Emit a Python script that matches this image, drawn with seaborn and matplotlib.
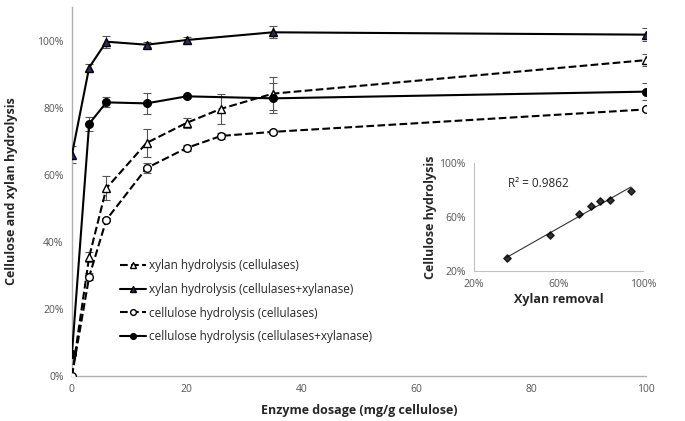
import matplotlib
matplotlib.use("Agg")
import matplotlib.pyplot as plt
import numpy as np
import pandas as pd
import seaborn as sns
from matplotlib.ticker import PercentFormatter

# enzyme dosage (mg/g cellulose)
dose_cel = [0, 3, 6, 13, 20, 26, 35, 100]
dose_mix = [0, 3, 6, 13, 20, 35, 100]

# hydrolysis yields (%)
xylan_cel = [0, 35.5, 56, 69.5, 75.5, 79.7, 84.2, 94.2]
xylan_cel_err = [0, 1.5, 3.5, 4.2, 1.5, 4.5, 5.0, 1.8]
xylan_mix = [66, 92, 99.7, 98.8, 100.2, 102.5, 101.8]
xylan_mix_err = [2.5, 1.0, 1.8, 0.8, 0.8, 1.8, 2.0]
cell_cel = [0, 29.6, 46.6, 62, 68, 71.6, 72.8, 79.5]
cell_cel_err = [0, 1.0, 0.5, 1.5, 0.8, 0.8, 0.5, 0.5]
cell_mix = [6.5, 75.2, 81.6, 81.3, 83.4, 82.8, 84.8]
cell_mix_err = [0.5, 2.0, 1.5, 3.2, 0.5, 4.5, 2.5]

labels = ["xylan hydrolysis (cellulases)",
          "xylan hydrolysis (cellulases+xylanase)",
          "cellulose hydrolysis (cellulases)",
          "cellulose hydrolysis (cellulases+xylanase)"]

r2_text = "R² = 0.9862"

sns.set_style("white")
plt.rcParams['font.family'] = ['Open Sans', 'DejaVu Sans']

fig = plt.figure(figsize=(6.85, 4.21), dpi=100)
ax = fig.add_axes([0.105, 0.107, 0.838, 0.876])

series = [
    (dose_cel, xylan_cel, xylan_cel_err, '--', '^', 'white'),
    (dose_mix, xylan_mix, xylan_mix_err, '-', '^', '#2e2a55'),
    (dose_cel, cell_cel, cell_cel_err, '--', 'o', 'white'),
    (dose_mix, cell_mix, cell_mix_err, '-', 'o', 'black'),
]
for (x, y, err, ls, mk, fc), lab in zip(series, labels):
    ax.errorbar(x, y, yerr=err, fmt='none', ecolor='#555555', elinewidth=0.8,
                capsize=3, capthick=0.8, zorder=2)
    df = pd.DataFrame({'dose': x, 'value': y})
    sns.lineplot(data=df, x='dose', y='value', ax=ax, color='black', linestyle=ls,
                 linewidth=1.5, marker=mk, markersize=5.5, markerfacecolor=fc,
                 markeredgecolor='black', markeredgewidth=1, label=lab, zorder=3)

ax.set_xlim(0, 100)
ax.set_ylim(0, 110)
ax.set_xticks(range(0, 101, 20))
ax.set_yticks(range(0, 101, 20))
ax.yaxis.set_major_formatter(PercentFormatter(decimals=0))
ax.tick_params(labelsize=7.5, colors='#555555', length=0, pad=6)
for s in ['top', 'right']:
    ax.spines[s].set_visible(False)
for s in ['left', 'bottom']:
    ax.spines[s].set_color('#b0b0b0')
    ax.spines[s].set_linewidth(1)
ax.set_xlabel("Enzyme dosage (mg/g cellulose)", fontsize=9, fontweight='bold', labelpad=6)
ax.set_ylabel("Cellulose and xylan hydrolysis", fontsize=9, fontweight='bold', labelpad=14)
ax.legend(loc='upper left', bbox_to_anchor=(0.065, 0.345), frameon=False, fontsize=8.5,
          handlelength=2.2, handletextpad=0.3, labelspacing=0.9, markerscale=0.75)

# inset: cellulose hydrolysis vs xylan removal
ins = fig.add_axes([0.692, 0.356, 0.247, 0.2565])
df_in = pd.DataFrame({'xylan': xylan_cel[1:], 'cellulose': cell_cel[1:]})
sns.regplot(data=df_in, x='xylan', y='cellulose', ax=ins, ci=None, truncate=True,
            marker='D', scatter_kws={'s': 14, 'color': 'black', 'zorder': 3},
            line_kws={'color': '#333333', 'linewidth': 0.8})
ins.set_xlim(20, 100)
ins.set_ylim(20, 100)
ins.set_xticks([20, 60, 100])
ins.set_yticks([20, 60, 100])
ins.xaxis.set_major_formatter(PercentFormatter(decimals=0))
ins.yaxis.set_major_formatter(PercentFormatter(decimals=0))
ins.tick_params(labelsize=7.5, colors='#555555', length=0, pad=6)
for s in ['top', 'right']:
    ins.spines[s].set_visible(False)
for s in ['left', 'bottom']:
    ins.spines[s].set_color('#c0c0c0')
ins.set_xlabel("Xylan removal", fontsize=9, fontweight='bold', labelpad=2)
ins.set_ylabel("Cellulose hydrolysis", fontsize=9, fontweight='bold', labelpad=2)
ins.text(0.2, 0.78, r2_text, transform=ins.transAxes, fontsize=8.5)

fig.savefig("out.png", dpi=100)
